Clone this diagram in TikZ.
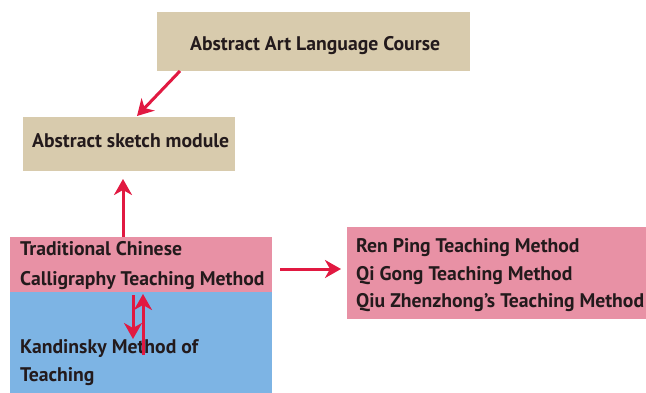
\documentclass[tikz,border=0pt]{standalone}
\usepackage{fontspec}
\setmainfont{PT Sans}
\usetikzlibrary{arrows.meta}
\definecolor{tanbox}{HTML}{D8CBAD}
\definecolor{pinkbox}{HTML}{E891A5}
\definecolor{bluebox}{HTML}{7DB4E4}
\definecolor{arrowred}{HTML}{E11941}
\definecolor{txt}{HTML}{231A1C}
\tikzset{
  box/.style={inner sep=0pt, outer sep=0pt, draw=none, anchor=north west},
  lbl/.style={inner sep=0pt, anchor=base west, text=txt, font=\fontsize{19.7}{20}\selectfont\bfseries},
  conn/.style={draw=arrowred, line width=3pt, -{Stealth[length=16pt,width=18pt,inset=5pt]}}
}
\begin{document}
\begin{tikzpicture}[x=1pt,y=-1pt]
\useasboundingbox[fill=white] (0,0) rectangle (646,392);
% boxes
\node[box, fill=tanbox, minimum width=313pt, minimum height=59pt] (course) at (157,12) {};
\node[box, fill=tanbox, minimum width=212pt, minimum height=54pt] (sketch) at (23,117) {};
\node[box, fill=bluebox, minimum width=262pt, minimum height=102pt] (kand) at (10,292) {};
\node[box, fill=pinkbox, minimum width=262pt, minimum height=55pt] (tcc) at (10,237) {};
\node[box, fill=pinkbox, minimum width=300pt, minimum height=92pt] (methods) at (347,227) {};
% texts
\node[lbl] (t1) at (190,50) {Abstract Art Language Course};
\node[lbl] (t2) at (32,147) {Abstract sketch module};
\node[lbl] (t3) at (20,255) {Traditional Chinese};
\node[lbl] (t4) at (20,285) {Calligraphy Teaching Method};
\node[lbl] (t5) at (20,353) {Kandinsky Method of};
\node[lbl] (t6) at (20,381) {Teaching};
\node[lbl] (t7) at (356,252) {Ren Ping Teaching Method};
\node[lbl] (t8) at (356,280) {Qi Gong Teaching Method};
\node[lbl] (t9) at (356,307) {Qiu Zhenzhong's Teaching Method};
% connector ends
\coordinate (c1s) at (180,71);
\coordinate (c1e) at (137,116);
\coordinate (c2s) at (123,237);
\coordinate (c2e) at (123,179);
\coordinate (c3s) at (133,295);
\coordinate (c3e) at (133,339);
\coordinate (c4s) at (143,355);
\coordinate (c4e) at (143,294);
\coordinate (c5s) at (280,269);
\coordinate (c5e) at (341,269);
\draw[conn] (c1s) -- (c1e);
\draw[conn] (c2s) -- (c2e);
\draw[conn] (c3s) -- (c3e);
\draw[conn] (c4s) -- (c4e);
\draw[conn] (c5s) -- (c5e);
\end{tikzpicture}
\end{document}
